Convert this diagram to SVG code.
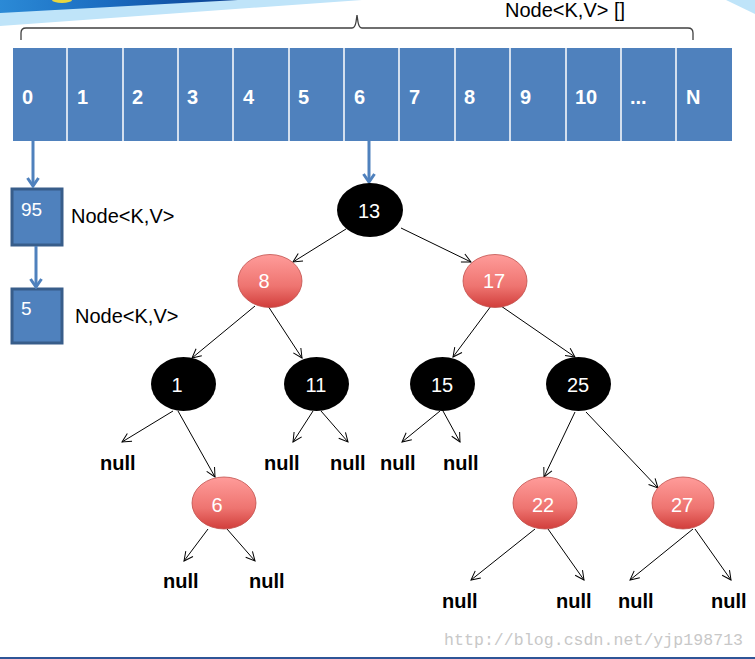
<svg xmlns="http://www.w3.org/2000/svg" width="755" height="659" viewBox="0 0 755 659">
<style>
.cell{fill:#4F81BD}
.div{stroke:#fff;stroke-width:1.5}
.idx{font-family:"Liberation Sans",Arial,sans-serif;font-weight:bold;font-size:20px;fill:#fff}
.lbl{font-family:"Liberation Sans",Arial,sans-serif;font-size:20px;fill:#000}
.box{fill:#4F81BD;stroke:#385D8A;stroke-width:3}
.boxt{font-family:"Liberation Sans",Arial,sans-serif;font-size:19px;fill:#fff}
.blk{fill:#000}
.red{fill:url(#rg);stroke:#c0504d;stroke-width:0.8}
.nt{font-family:"Liberation Sans",Arial,sans-serif;font-size:20px;fill:#fff;text-anchor:middle}
.null{font-family:"Liberation Sans",Arial,sans-serif;font-weight:bold;font-size:20px;fill:#000}
.c{stroke:#000;stroke-width:1;fill:none;marker-end:url(#ah)}
.bc{stroke:#4F81BD;stroke-width:3;fill:none;marker-end:url(#bh)}
</style>
<defs>
<linearGradient id="rg" x1="0" y1="0" x2="0" y2="1">
<stop offset="0" stop-color="#ff9c9a"/>
<stop offset="0.6" stop-color="#ee7470"/>
<stop offset="1" stop-color="#d13e3b"/>
</linearGradient>
<linearGradient id="dg" x1="0" y1="0" x2="1" y2="0">
<stop offset="0" stop-color="#2b8ad6"/>
<stop offset="0.45" stop-color="#1b6cc0"/>
<stop offset="1" stop-color="#0b3f90"/>
</linearGradient>
<marker id="ah" viewBox="-10 -6 12 12" refX="0" refY="0" markerWidth="12" markerHeight="12" markerUnits="userSpaceOnUse" orient="auto">
<path d="M-9,-4.5 L0,0 L-9,4.5" fill="none" stroke="#000" stroke-width="1"/>
</marker>
<marker id="bh" viewBox="-11 -7 13 14" refX="0" refY="0" markerWidth="13" markerHeight="14" markerUnits="userSpaceOnUse" orient="auto">
<path d="M-8,-5.5 L0,0 L-8,5.5" fill="none" stroke="#4F81BD" stroke-width="3"/>
</marker>
</defs>
<rect x="0" y="0" width="755" height="659" fill="#fff"/>
<!-- banner decoration -->
<polygon points="0,0 362,0 0,26" fill="#bfe4f9"/>
<polygon points="0,0 238,0 0,13" fill="url(#dg)"/>
<ellipse cx="62" cy="0" rx="10" ry="3" fill="#e8d640"/>
<polygon points="726,0 755,0 755,14" fill="#bfe4f9"/>
<rect x="0" y="657" width="755" height="2" fill="#2f5597"/>

<!-- brace and array label -->
<path d="M21,40 L21,33 Q21,28 26,28 L352,28 Q355,28 356,22 L357,15 L358,22 Q359,28 362,28 L688,28 Q693,28 693,33 L693,40" fill="none" stroke="#404040" stroke-width="1.3"/>
<text class="lbl" x="505" y="17">Node&lt;K,V&gt; []</text>

<!-- array -->
<g id="array">
<rect class="cell" x="13" y="48" width="719" height="93"/>
<g class="div">
<line x1="67" y1="48" x2="67" y2="141"/>
<line x1="123" y1="48" x2="123" y2="141"/>
<line x1="178" y1="48" x2="178" y2="141"/>
<line x1="233" y1="48" x2="233" y2="141"/>
<line x1="289" y1="48" x2="289" y2="141"/>
<line x1="344" y1="48" x2="344" y2="141"/>
<line x1="399" y1="48" x2="399" y2="141"/>
<line x1="455" y1="48" x2="455" y2="141"/>
<line x1="510" y1="48" x2="510" y2="141"/>
<line x1="566" y1="48" x2="566" y2="141"/>
<line x1="621" y1="48" x2="621" y2="141"/>
<line x1="676" y1="48" x2="676" y2="141"/>
</g>
<text class="idx" x="22" y="104">0</text>
<text class="idx" x="77" y="104">1</text>
<text class="idx" x="132" y="104">2</text>
<text class="idx" x="187" y="104">3</text>
<text class="idx" x="243" y="104">4</text>
<text class="idx" x="298" y="104">5</text>
<text class="idx" x="354" y="104">6</text>
<text class="idx" x="409" y="104">7</text>
<text class="idx" x="464" y="104">8</text>
<text class="idx" x="520" y="104">9</text>
<text class="idx" x="575" y="104">10</text>
<text class="idx" x="630" y="104">...</text>
<text class="idx" x="686" y="104">N</text>
</g>

<!-- list nodes -->
<g id="n95">
<rect class="box" x="12" y="189" width="50" height="56"/>
<text class="boxt" x="21" y="216">95</text>
</g>
<text class="lbl" x="71" y="223">Node&lt;K,V&gt;</text>
<g id="n5">
<rect class="box" x="12" y="289" width="50" height="54"/>
<text class="boxt" x="21" y="315">5</text>
</g>
<text class="lbl" x="75" y="323">Node&lt;K,V&gt;</text>

<!-- connectors -->
<g id="connectors">
<line class="bc" x1="33" y1="141" x2="33" y2="186"/>
<line class="bc" x1="36" y1="246" x2="36" y2="287"/>
<line class="bc" x1="369" y1="141" x2="369" y2="182"/>
<line class="c" x1="346" y1="229" x2="293" y2="262"/>
<line class="c" x1="401" y1="228" x2="471" y2="262"/>
<line class="c" x1="255" y1="306" x2="192" y2="358"/>
<line class="c" x1="268" y1="306" x2="302" y2="358"/>
<line class="c" x1="491" y1="306" x2="453" y2="357"/>
<line class="c" x1="501" y1="306" x2="575" y2="357"/>
<line class="c" x1="173" y1="411" x2="122" y2="442"/>
<line class="c" x1="178" y1="411" x2="215" y2="477"/>
<line class="c" x1="313" y1="411" x2="293" y2="442"/>
<line class="c" x1="321" y1="411" x2="348" y2="442"/>
<line class="c" x1="440" y1="411" x2="402" y2="442"/>
<line class="c" x1="443" y1="411" x2="460" y2="442"/>
<line class="c" x1="575" y1="412" x2="544" y2="477"/>
<line class="c" x1="586" y1="412" x2="658" y2="488"/>
<line class="c" x1="208" y1="529" x2="184" y2="561"/>
<line class="c" x1="227" y1="529" x2="255" y2="561"/>
<line class="c" x1="535" y1="529" x2="471" y2="580"/>
<line class="c" x1="548" y1="529" x2="584" y2="580"/>
<line class="c" x1="693" y1="529" x2="630" y2="580"/>
<line class="c" x1="695" y1="529" x2="731" y2="580"/>
</g>

<!-- tree nodes -->
<g id="t13"><ellipse class="blk" cx="370" cy="210" rx="33" ry="27"/><text class="nt" x="369" y="218">13</text></g>
<g id="t8"><ellipse class="red" cx="270" cy="281" rx="32" ry="26.5"/><text class="nt" x="264" y="288">8</text></g>
<g id="t17"><ellipse class="red" cx="495" cy="281" rx="32" ry="26.5"/><text class="nt" x="494" y="288">17</text></g>
<g id="t1"><ellipse class="blk" cx="183.5" cy="384" rx="32.5" ry="27"/><text class="nt" x="177" y="392">1</text></g>
<g id="t11"><ellipse class="blk" cx="316.5" cy="384" rx="32.5" ry="27"/><text class="nt" x="316" y="392">11</text></g>
<g id="t15"><ellipse class="blk" cx="442.5" cy="384" rx="32.5" ry="27"/><text class="nt" x="442" y="392">15</text></g>
<g id="t25"><ellipse class="blk" cx="578.5" cy="384" rx="32.5" ry="27"/><text class="nt" x="578" y="392">25</text></g>
<g id="t6"><ellipse class="red" cx="224" cy="503" rx="32" ry="26"/><text class="nt" x="217" y="512">6</text></g>
<g id="t22"><ellipse class="red" cx="545" cy="503" rx="32" ry="26"/><text class="nt" x="543" y="512">22</text></g>
<g id="t27"><ellipse class="red" cx="683" cy="503" rx="31" ry="26"/><text class="nt" x="682" y="512">27</text></g>

<!-- null leaves -->
<g id="nulls">
<text class="null" x="100" y="470">null</text>
<text class="null" x="264" y="470">null</text>
<text class="null" x="330" y="470">null</text>
<text class="null" x="380" y="470">null</text>
<text class="null" x="443" y="470">null</text>
<text class="null" x="163" y="588">null</text>
<text class="null" x="249" y="588">null</text>
<text class="null" x="442" y="608">null</text>
<text class="null" x="556" y="608">null</text>
<text class="null" x="618" y="608">null</text>
<text class="null" x="711" y="608">null</text>
</g>

<text x="444" y="645" font-family="'Liberation Mono',monospace" font-size="16.5" fill="#c8c8c8" textLength="299">http://blog.csdn.net/yjp198713</text>
</svg>
